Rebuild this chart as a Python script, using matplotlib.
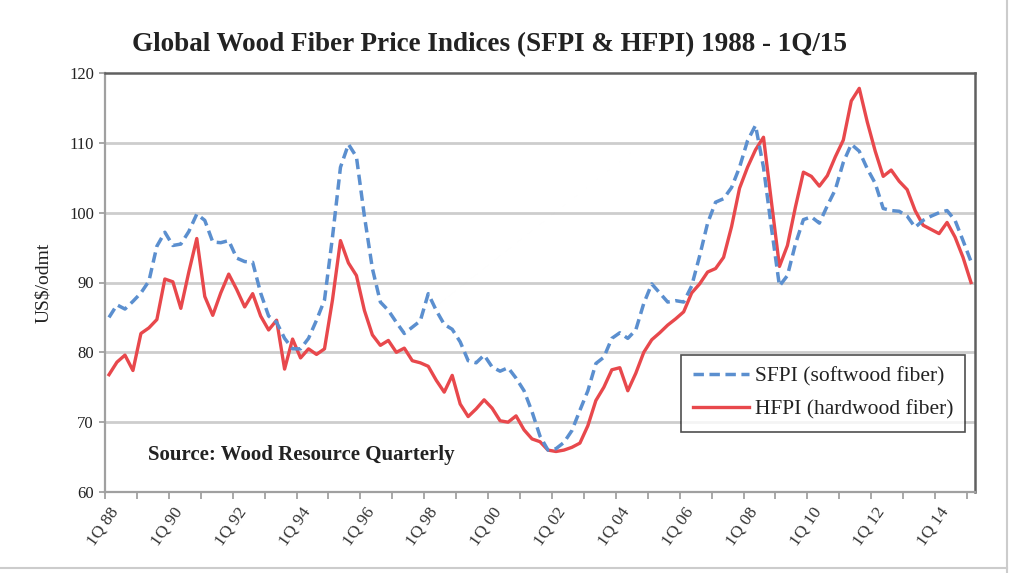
import matplotlib
matplotlib.use("Agg")
import matplotlib.pyplot as plt
from matplotlib.lines import Line2D

# ---- data (quarterly, 1Q88 .. 1Q15) ----
sfpi = [85.0, 86.8, 86.2, 87.3, 88.5, 90.2, 95.2, 97.2, 95.3, 95.5,
        97.3, 99.8, 98.9, 95.8, 95.7, 96.0, 93.5, 93.0, 92.9, 88.5,
        85.2, 84.3, 82.0, 80.5, 80.5, 82.0, 84.6, 87.5, 96.5, 106.5,
        109.8, 108.0, 99.5, 92.0, 87.2, 86.0, 84.3, 82.7, 83.6, 84.5,
        88.4, 86.0, 84.0, 83.3, 81.5, 78.8, 78.5, 79.6, 77.9, 77.3,
        77.8, 76.3, 74.5, 71.5, 68.0, 66.0, 66.2, 67.1, 68.8, 71.7,
        74.5, 78.4, 79.3, 82.0, 82.8, 82.0, 83.2, 87.0, 89.8, 88.5,
        87.2, 87.4, 87.2, 89.5, 93.8, 98.5, 101.5, 102.0, 103.6, 106.5,
        110.3, 112.5, 106.5, 97.8, 89.5, 91.0, 95.5, 99.0, 99.4, 98.5,
        101.0, 103.3, 107.2, 109.8, 108.8, 106.3, 104.2, 100.6, 100.3, 100.2,
        99.5, 97.9, 98.9, 99.5, 100.0, 100.3, 98.9, 96.0, 93.0]

hfpi = [76.8, 78.6, 79.6, 77.4, 82.7, 83.5, 84.7, 90.5, 90.1, 86.3,
        91.5, 96.3, 88.0, 85.3, 88.5, 91.2, 89.0, 86.5, 88.4, 85.2,
        83.2, 84.6, 77.6, 81.9, 79.2, 80.5, 79.7, 80.5, 87.5, 96.0,
        92.8, 91.0, 86.0, 82.5, 81.0, 81.7, 80.0, 80.6, 78.8, 78.5,
        78.0, 76.0, 74.3, 76.7, 72.6, 70.8, 71.9, 73.2, 72.0, 70.2,
        70.0, 70.9, 68.9, 67.6, 67.2, 66.0, 65.8, 66.0, 66.4, 67.0,
        69.5, 73.1, 75.0, 77.5, 77.8, 74.5, 77.0, 80.0, 81.8, 82.8,
        83.9, 84.8, 85.8, 88.5, 89.8, 91.5, 92.0, 93.6, 98.0, 103.5,
        106.5, 109.0, 110.8, 101.5, 92.3, 95.3, 100.8, 105.8, 105.2, 103.8,
        105.3, 108.0, 110.4, 116.0, 117.8, 113.0, 108.8, 105.2, 106.1, 104.5,
        103.3, 100.3, 98.2, 97.6, 97.0, 98.6, 96.5, 93.6, 90.0]

tick_labels = ["1Q 88", "1Q 90", "1Q 92", "1Q 94", "1Q 96", "1Q 98", "1Q 00",
               "1Q 02", "1Q 04", "1Q 06", "1Q 08", "1Q 10", "1Q 12", "1Q 14"]
y_ticks = [60, 70, 80, 90, 100, 110, 120]

title = "Global Wood Fiber Price Indices (SFPI & HFPI) 1988 - 1Q/15"
ylabel = "US$/odmt"
source = "Source: Wood Resource Quarterly"
sfpi_name = "SFPI (softwood fiber)"
hfpi_name = "HFPI (hardwood fiber)"

# ---- figure ----
SERIF = ["Liberation Serif", "DejaVu Serif"]
plt.rcParams["font.family"] = SERIF

fig = plt.figure(figsize=(10.12, 5.73), dpi=100)
ax = fig.add_axes([105 / 1012, 1 - 492 / 573, 870 / 1012, 419 / 573])

n = len(sfpi)
x = list(range(n))
blue = "#5b8fcf"
red = "#e8484c"

ax.set_xlim(-0.5, n - 0.5)
ax.set_ylim(60, 120)

for y in y_ticks[1:-1]:
    ax.axhline(y, color="#cdcdcd", lw=2.0, zorder=1)

ax.plot(x, sfpi, color=blue, lw=2.5, ls=(0, (3.0, 1.6)), zorder=3)
ax.plot(x, hfpi, color=red, lw=2.4, zorder=2)

# axis ticks: year separators (between-category mode)
major = [-0.5 + 4 * k for k in range(28)]
ax.set_xticks(major)
ax.set_xticklabels([])
ax.tick_params(axis="x", which="major", length=5, width=1.2, color="#999999", direction="out")
label_pos = [8 * k for k in range(len(tick_labels))]
ax.set_xticks(label_pos, minor=True)
ax.set_xticklabels(tick_labels, minor=True, rotation=55, ha="right",
                   rotation_mode="anchor", fontsize=12.5, color="#333333")
ax.tick_params(axis="x", which="minor", length=0, pad=9)

ax.set_yticks(y_ticks)
ax.set_yticklabels([str(v) for v in y_ticks], fontsize=12, color="#222222")
ax.tick_params(axis="y", length=4, width=1.2, color="#999999", pad=4)

for s in ["left", "bottom"]:
    ax.spines[s].set_color("#a0a0a0")
    ax.spines[s].set_linewidth(1.6)
for s in ["top", "right"]:
    ax.spines[s].set_color("#606060")
    ax.spines[s].set_linewidth(1.8)

ax.set_ylabel(ylabel, fontsize=14, color="#222222", labelpad=12)

fig.text(490 / 1012, 1 - 45 / 573, title, ha="center", va="center",
         fontsize=19.5, fontweight="bold", color="#222222")

ax.text(4.9, 65.3, source, fontsize=15, fontweight="bold", color="#222222",
        ha="left", va="center", zorder=5)

handles = [Line2D([], [], color=blue, lw=2.5, ls=(0, (3.0, 1.6))),
           Line2D([], [], color=red, lw=2.4)]
leg = ax.legend(handles, [sfpi_name, hfpi_name], loc="upper right",
                bbox_to_anchor=(0.9885, 0.327), fontsize=15.5, frameon=True,
                fancybox=False, edgecolor="#222222", handlelength=2.6,
                handletextpad=0.25, borderpad=0.55, labelspacing=0.6,
                borderaxespad=0)
leg.get_frame().set_linewidth(1.2)
for t in leg.get_texts():
    t.set_color("#222222")

# chart-area border (bottom and right edges)
fig.add_artist(Line2D([0, 1007 / 1012], [1 - 568 / 573] * 2, color="#cccccc", lw=1.5))
fig.add_artist(Line2D([1007 / 1012] * 2, [0, 1], color="#cccccc", lw=1.5))

fig.savefig("out.png", dpi=100)
